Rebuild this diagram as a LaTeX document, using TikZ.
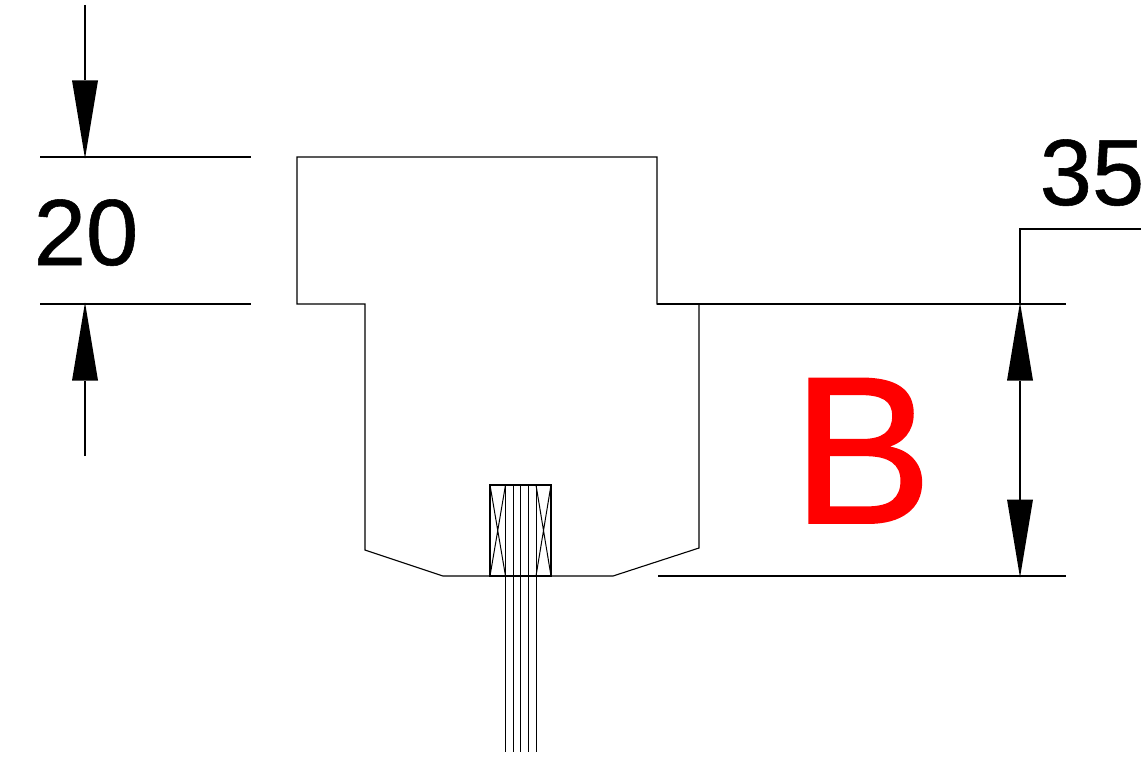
\documentclass[tikz,border=0pt]{standalone}
\usepackage{fontspec}
\setmainfont{Liberation Sans}
\newfontfamily\heavyfont[FakeBold=0.6]{Liberation Sans}
\newfontfamily\bigfont[FakeBold=0.9]{Liberation Sans}
\usetikzlibrary{arrows.meta}
\definecolor{redB}{RGB}{255,0,0}
\tikzset{
  px/.style={x=1pt,y=-1pt},
  thin line/.style={draw=black,line width=1.1pt,line join=miter},
  fine line/.style={draw=black,line width=1pt},
  dim line/.style={draw=black,line width=2pt},
  dim head/.style={-{Triangle[length=78pt,width=26pt,fill=black,line width=0pt]},draw=black,line width=2pt,shorten >=-1.5pt},
  dim both/.style={{Triangle[length=78pt,width=26pt,fill=black,line width=0pt]}-{Triangle[length=78pt,width=26pt,fill=black,line width=0pt]},draw=black,line width=2pt,shorten >=-1.5pt,shorten <=-1.5pt},
  dim text/.style={inner sep=0pt,anchor=base west,text=black,font=\heavyfont\fontsize{94}{94}\selectfont},
  big text/.style={inner sep=0pt,anchor=base west,text=redB,font=\bigfont\fontsize{210}{210}\selectfont}
}
\begin{document}
\begin{tikzpicture}[px]
\useasboundingbox (0,0) rectangle (1147,765);
% dimension coordinates
\coordinate (tl1) at (40,157); \coordinate (tl2) at (251,157);
\coordinate (bl1) at (40,304); \coordinate (bl2) at (251,304);
\coordinate (at) at (85,5);    \coordinate (ate) at (85,157);
\coordinate (ab) at (85,456);  \coordinate (abe) at (85,304);
\coordinate (r1a) at (657,304); \coordinate (r1b) at (1066,304);
\coordinate (r2a) at (658,576); \coordinate (r2b) at (1066,576);
\coordinate (v1) at (1020,304); \coordinate (v2) at (1020,576);
\coordinate (l1) at (1020,229); \coordinate (l2) at (1141,229);
% body outline
\draw[thin line] (297,157) -- (657,157) -- (657,304) -- (699,304) -- (699,548)
  -- (613,576) -- (443,576) -- (365,550) -- (365,304) -- (297,304) -- cycle;
% small component
\draw[thin line] (490,485) rectangle (551,576);
\foreach \xx in {505.5,513,520.5,528,536}
  \draw[fine line] (\xx,485) -- (\xx,752);
\draw[fine line] (490,485) -- (505.5,576) (505.5,485) -- (490,576);
\draw[fine line] (536,485) -- (551,576) (551,485) -- (536,576);
% dimensions
\draw[dim line] (tl1) -- (tl2);
\draw[dim line] (bl1) -- (bl2);
\draw[dim head] (at) -- (ate);
\draw[dim head] (ab) -- (abe);
\draw[dim line] (r1a) -- (r1b);
\draw[dim line] (r2a) -- (r2b);
\draw[dim both] (v1) -- (v2);
\draw[dim line,line join=miter] (v1) -- (l1) -- (l2);
% labels
\node[dim text] (n20) at (33.5,265) {20};
\node[dim text] (n35) at (1039.5,205) {35};
\node[big text] (nB) at (792,523) {B};
\end{tikzpicture}
\end{document}
